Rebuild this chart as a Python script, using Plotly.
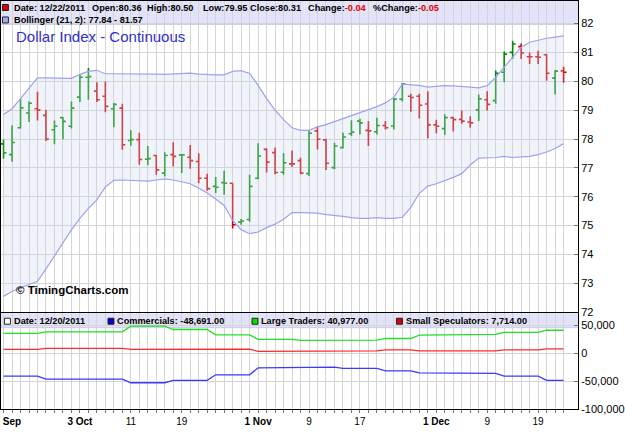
import pandas as pd
import plotly.graph_objects as go

# ---------------- data ----------------
holidays = ["2011-11-24"]
dates = [d.strftime("%Y-%m-%d") for d in pd.bdate_range("2011-09-20", "2011-12-22")
         if d.strftime("%Y-%m-%d") not in holidays]

opens = [77.83, 77.46, 78.39, 78.90, 79.05, 78.82, 78.32, 78.74, 78.44, 79.45,
         80.14, 79.66, 79.48, 79.05, 79.07, 77.95, 77.98, 77.30, 77.43, 76.82,
         77.46, 77.45, 77.37, 77.22, 76.64, 76.36, 76.49, 76.47, 75.12, 75.21,
         76.64, 77.64, 77.53, 76.85, 77.14, 77.25, 76.80, 78.28, 77.97, 77.01,
         77.70, 78.18, 78.62, 78.30, 78.25, 78.47, 78.45, 79.38, 79.48, 79.48,
         79.21, 78.49, 78.36, 78.74, 78.68, 78.59, 79.01, 79.36, 79.33, 80.31,
         81.00, 81.20, 80.85, 80.85, 80.92, 80.11, 80.36]
highs = [77.98, 78.47, 79.39, 79.30, 79.64, 79.01, 78.64, 78.76, 79.30, 80.25,
         80.46, 79.97, 79.99, 79.25, 79.22, 78.30, 78.22, 77.76, 77.45, 77.54,
         77.89, 77.48, 77.79, 77.51, 76.80, 76.68, 76.90, 76.47, 75.23, 76.76,
         77.85, 77.68, 77.71, 77.51, 77.60, 77.35, 78.28, 78.43, 78.01, 77.87,
         78.22, 78.65, 78.70, 78.62, 78.74, 78.62, 79.42, 79.94, 79.57, 79.57,
         79.65, 78.67, 78.85, 78.76, 78.99, 78.79, 79.54, 79.65, 80.37, 81.03,
         81.40, 81.31, 81.00, 81.06, 80.94, 80.39, 80.50]
lows = [77.32, 77.21, 78.36, 78.59, 78.64, 77.93, 77.82, 77.99, 78.36, 79.28,
        79.36, 79.28, 78.93, 78.41, 77.63, 77.77, 77.11, 77.09, 76.76, 76.70,
        77.05, 76.82, 76.97, 76.47, 76.21, 76.13, 76.07, 74.90, 75.03, 75.13,
        76.61, 76.84, 76.78, 76.76, 77.03, 76.78, 76.72, 77.64, 76.93, 76.95,
        77.67, 78.10, 78.16, 77.76, 78.16, 78.33, 78.33, 79.30, 78.94, 78.71,
        78.02, 78.20, 78.14, 78.26, 78.53, 78.39, 78.62, 78.99, 79.22, 79.97,
        80.77, 80.77, 80.60, 80.60, 80.02, 79.54, 79.95]
closes = [77.52, 77.88, 79.08, 79.24, 79.00, 78.00, 78.44, 78.61, 79.07, 80.14,
          80.16, 79.36, 79.13, 79.20, 77.80, 77.98, 77.29, 77.32, 76.93, 77.43,
          77.40, 77.45, 77.25, 76.64, 76.28, 76.33, 76.47, 75.03, 75.16, 76.36,
          77.41, 77.20, 76.84, 77.18, 77.14, 76.82, 78.20, 77.99, 77.16, 77.76,
          78.07, 78.24, 78.56, 78.28, 78.47, 78.39, 79.38, 79.90, 79.44, 79.17,
          78.49, 78.44, 78.74, 78.67, 78.62, 78.56, 79.39, 79.20, 80.28, 80.94,
          81.29, 80.98, 80.85, 80.83, 80.28, 80.35, 80.31]

boll_upper = [78.85, 79.05, 79.40, 79.78, 80.12, 80.12, 80.11, 80.10, 80.10, 80.24,
              80.34, 80.38, 80.26, 80.26, 80.26, 80.26, 80.27, 80.26, 80.25, 80.24,
              80.26, 80.27, 80.28, 80.25, 80.23, 80.22, 80.22, 80.34, 80.37, 80.27,
              79.86, 79.40, 79.00, 78.67, 78.39, 78.30, 78.30, 78.42, 78.50, 78.60,
              78.70, 78.80, 78.90, 79.00, 79.12, 79.25, 79.45, 79.90, 79.89, 79.86,
              79.80, 79.82, 79.85, 79.84, 79.83, 79.80, 79.77, 79.85, 80.14, 80.50,
              80.83, 81.18, 81.35, 81.43, 81.49, 81.53, 81.57]
boll_lower = [72.55, 72.72, 72.85, 72.95, 73.07, 73.50, 73.93, 74.40, 74.85, 75.25,
              75.60, 75.89, 76.34, 76.57, 76.58, 76.56, 76.55, 76.54, 76.58, 76.62,
              76.58, 76.52, 76.45, 76.30, 76.13, 75.92, 75.70, 75.18, 74.86, 74.72,
              74.78, 74.93, 75.05, 75.22, 75.45, 75.45, 75.45, 75.43, 75.38, 75.36,
              75.32, 75.28, 75.25, 75.25, 75.28, 75.25, 75.25, 75.29, 75.63, 76.12,
              76.37, 76.45, 76.55, 76.67, 76.80, 77.10, 77.34, 77.35, 77.36, 77.40,
              77.36, 77.38, 77.40, 77.46, 77.55, 77.67, 77.84]

cot_dates = ["2011-09-20", "2011-09-27", "2011-10-04", "2011-10-11", "2011-10-18",
             "2011-10-25", "2011-11-01", "2011-11-08", "2011-11-15", "2011-11-22",
             "2011-11-29", "2011-12-06", "2011-12-13", "2011-12-20"]
commercials = [-41100, -46400, -46400, -53000, -48800, -38800, -26300, -25000,
               -27300, -31600, -35200, -36300, -41100, -48691]
large_traders = [35200, 38000, 38000, 48200, 42300, 32700, 24500, 22700,
                 23200, 26200, 32100, 33400, 37000, 40977]
small_specs = [6600, 8400, 8400, 6600, 7100, 7100, 3000, 3000,
               4100, 5900, 4100, 4100, 5900, 7714]

price_ticks = [72, 73, 74, 75, 76, 77, 78, 79, 80, 81, 82]
cot_ticks = [-100000, -50000, 0, 50000]
cot_tick_text = ["-100,000", "-50,000", "0", "50,000"]
x_labels = {"2011-09-21": "<b>Sep</b>", "2011-10-03": "<b>3 Oct</b>", "2011-10-11": "11",
            "2011-10-19": "19", "2011-11-01": "<b>1 Nov</b>", "2011-11-09": "9",
            "2011-11-17": "17", "2011-12-01": "<b>1 Dec</b>", "2011-12-09": "9",
            "2011-12-19": "19"}

# ---------------- derived ----------------
def daily(vals):
    s = pd.Series(vals, index=pd.to_datetime(cot_dates))
    return s.reindex(pd.to_datetime(dates), method="ffill").tolist()

up = [i == 0 or closes[i] >= closes[i - 1] for i in range(len(dates))]

def pick(lst, flag):
    return [v for v, u in zip(lst, up) if u == flag]

# ---------------- layout geometry ----------------
WIDTH, HEIGHT = 625, 440
ML, MR, MT, MB = 1, 39, 0, 31
PW, PH = WIDTH - ML - MR, HEIGHT - MT - MB

def fx(px):
    return (px - ML) / PW

def fy(py):
    return 1 - (py - MT) / PH

FONT = "Liberation Sans, Arial, sans-serif"
GRID = "#d4d4d4"
GREEN_BAR = "#008a00"
RED_BAR = "#d00000"

fig = go.Figure()

fig.add_trace(go.Scatter(x=dates, y=boll_lower, mode="lines",
                         line=dict(color="#a0a0f2", width=1.2),
                         xaxis="x", yaxis="y", hoverinfo="skip"))
fig.add_trace(go.Scatter(x=dates, y=boll_upper, mode="lines", fill="tonexty",
                         fillcolor="rgba(205,218,238,0.30)",
                         line=dict(color="#a0a0f2", width=1.2),
                         xaxis="x", yaxis="y", hoverinfo="skip"))

for flag, col in ((True, GREEN_BAR), (False, RED_BAR)):
    fig.add_trace(go.Ohlc(x=pick(dates, flag), open=pick(opens, flag), high=pick(highs, flag),
                          low=pick(lows, flag), close=pick(closes, flag),
                          increasing=dict(line=dict(color=col, width=1.6)),
                          decreasing=dict(line=dict(color=col, width=1.6)),
                          tickwidth=0.35, xaxis="x", yaxis="y"))

for vals, col in ((large_traders, "#22e022"), (small_specs, "#ff2a2a"), (commercials, "#3a3aff")):
    fig.add_trace(go.Scatter(x=dates, y=daily(vals), mode="lines",
                             line=dict(color=col, width=1.3),
                             xaxis="x2", yaxis="y2", hoverinfo="skip"))

xcommon = dict(type="category", categoryorder="array", categoryarray=dates,
               range=[-0.3, 67.7], showgrid=True, gridcolor=GRID, gridwidth=1,
               showline=True, linecolor="black", linewidth=1, mirror=True,
               tickvals=dates, zeroline=False, fixedrange=True)

fig.update_layout(
    width=WIDTH, height=HEIGHT,
    margin=dict(l=ML, r=MR, t=MT, b=MB),
    paper_bgcolor="white", plot_bgcolor="white",
    showlegend=False,
    font=dict(family=FONT, size=11, color="black"),
    xaxis=dict(**xcommon, anchor="y", showticklabels=False, ticks="",
               rangeslider=dict(visible=False)),
    xaxis2=dict(**xcommon, anchor="y2", matches="x",
                ticktext=[x_labels.get(d, "") for d in dates],
                ticks="outside", ticklen=3, tickcolor="#777",
                tickfont=dict(size=10, family=FONT, color="black"),
                rangeslider=dict(visible=False)),
    yaxis=dict(domain=[fy(312), 1], range=[72, 82.78], side="right",
               tickvals=price_ticks, ticks="inside", ticklen=4, tickcolor="#777",
               showgrid=True, gridcolor=GRID, zeroline=False,
               showline=True, linecolor="black", linewidth=1, mirror=True,
               tickfont=dict(size=11, family=FONT, color="black"), fixedrange=True),
    yaxis2=dict(domain=[0, fy(313)], range=[-100000, 71400], side="right",
                tickvals=cot_ticks, ticktext=cot_tick_text, ticks="inside", ticklen=4,
                tickcolor="#777", showgrid=True, gridcolor=GRID, zeroline=False,
                showline=True, linecolor="black", linewidth=1, mirror=True,
                tickfont=dict(size=11, family=FONT, color="black"), fixedrange=True),
)

shapes = []
# header bands
shapes.append(dict(type="rect", xref="paper", yref="paper", x0=0, x1=1, y0=fy(23.5), y1=1,
                   fillcolor="#e2e2f8", line=dict(width=0), layer="between"))
shapes.append(dict(type="line", xref="paper", yref="paper", x0=0, x1=1, y0=fy(23.5), y1=fy(23.5),
                   line=dict(color="#c9c9ea", width=1), layer="between"))
shapes.append(dict(type="rect", xref="paper", yref="paper", x0=0, x1=1, y0=fy(327.5), y1=fy(313),
                   fillcolor="#e2e2f8", line=dict(width=0), layer="between"))
shapes.append(dict(type="line", xref="paper", yref="paper", x0=0, x1=1, y0=fy(327.5), y1=fy(327.5),
                   line=dict(color="#c9c9ea", width=1), layer="between"))

def square(px, py, fill, border="#222"):
    return dict(type="rect", xref="paper", yref="paper",
                x0=fx(px), x1=fx(px + 6), y0=fy(py + 6), y1=fy(py),
                fillcolor=fill, line=dict(color=border, width=1), layer="above")

shapes += [square(2.5, 3.5, "#dd0000"), square(2.5, 16, "#a8a8f0"),
           square(4.5, 318, "white"), square(109.5, 318, "#0000e0"),
           square(255.5, 318, "#00e000"), square(402, 318, "#e00000")]
fig.update_layout(shapes=shapes)

def label(px, py, text, size=9.2, color="black"):
    return dict(xref="paper", yref="paper", x=fx(px), y=fy(py), text=text,
                xanchor="left", yanchor="middle", showarrow=False,
                font=dict(family=FONT, size=size, color=color), borderpad=0)

red = lambda s: f"<span style='color:#e00000'>{s}</span>"
annotations = [
    label(13, 7, "<b>Date: 12/22/2011</b>"),
    label(92.5, 7, "<b>Open:80.36</b>"),
    label(148.5, 7, "<b>High:80.50</b>"),
    label(204.5, 7, "<b>Low:79.95</b>"),
    label(252.5, 7, "<b>Close:80.31</b>"),
    label(311.5, 7, "<b>Change:" + red("-0.04") + "</b>"),
    label(377.5, 7, "<b>%Change:" + red("-0.05") + "</b>"),
    label(13, 19.5, "<b>Bollinger (21, 2): 77.84 - 81.57</b>"),
    label(15, 36, "Dollar Index - Continuous", size=15, color="#3030c8"),
    label(15, 290, "<b>© TimingCharts.com</b>", size=11.5),
    label(13, 321, "<b>Date: 12/20/2011</b>"),
    label(118, 321, "<b>Commercials: -48,691.00</b>"),
    label(264, 321, "<b>Large Traders: 40,977.00</b>"),
    label(411, 321, "<b>Small Speculators: 7,714.00</b>"),
]
fig.update_layout(annotations=annotations)

fig.write_html("out.html")
